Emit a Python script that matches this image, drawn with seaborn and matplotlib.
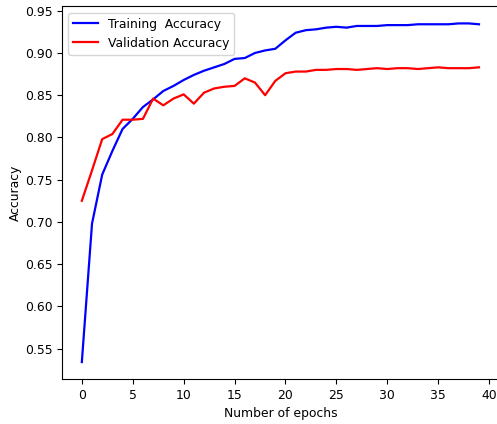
import pandas as pd
import seaborn as sns
import matplotlib
matplotlib.use("Agg")
import matplotlib.pyplot as plt


epochs = list(range(40))

train_acc = [0.534, 0.698, 0.756, 0.784, 0.810, 0.822, 0.836, 0.845, 0.855, 0.861,
             0.868, 0.874, 0.879, 0.883, 0.887, 0.893, 0.894, 0.900, 0.903, 0.905,
             0.915, 0.924, 0.927, 0.928, 0.930, 0.931, 0.930, 0.932, 0.932, 0.932,
             0.933, 0.933, 0.933, 0.934, 0.934, 0.934, 0.934, 0.935, 0.935, 0.934]

val_acc = [0.725, 0.761, 0.798, 0.804, 0.821, 0.821, 0.822, 0.846, 0.838, 0.846,
           0.851, 0.840, 0.853, 0.858, 0.860, 0.861, 0.870, 0.865, 0.850, 0.867,
           0.876, 0.878, 0.878, 0.880, 0.880, 0.881, 0.881, 0.880, 0.881, 0.882,
           0.881, 0.882, 0.882, 0.881, 0.882, 0.883, 0.882, 0.882, 0.882, 0.883]

df = pd.DataFrame({"epoch": epochs, "train": train_acc, "val": val_acc})

plt.rcParams["font.size"] = 8.9

fig = plt.figure(figsize=(4.97, 4.24), dpi=100)
ax = fig.add_axes([0.1247, 0.1061, 0.879, 0.8786])

sns.lineplot(data=df, x="epoch", y="train", color="blue", linewidth=1.6,
             label="Training  Accuracy", ax=ax)
sns.lineplot(data=df, x="epoch", y="val", color="red", linewidth=1.6,
             label="Validation Accuracy", ax=ax)

ax.set_xlabel("Number of epochs")
ax.set_ylabel("Accuracy", labelpad=2)
ax.set_xticks([0, 5, 10, 15, 20, 25, 30, 35, 40])
ax.legend(loc="upper left")

fig.savefig("out.png", dpi=100)
